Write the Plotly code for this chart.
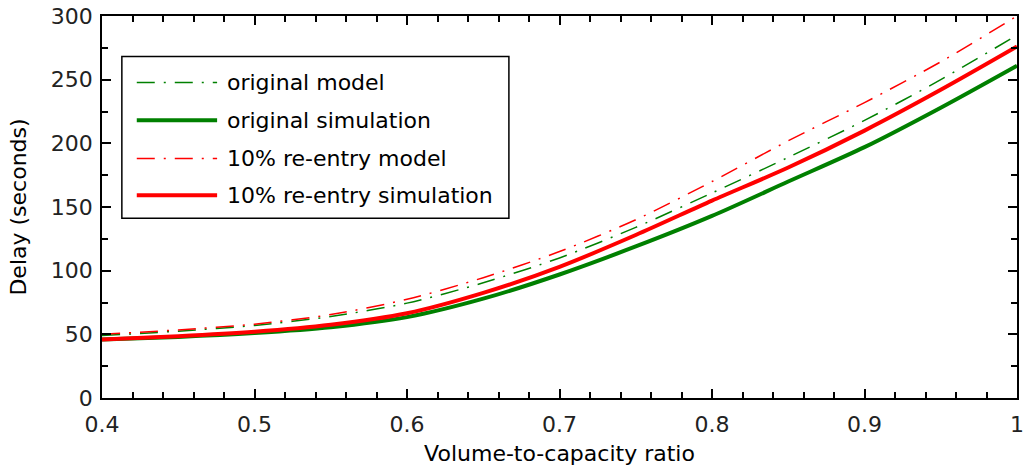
import plotly.graph_objects as go

# ---- data ----
vc_ratio = [0.40, 0.45, 0.50, 0.55, 0.60, 0.65, 0.70, 0.75, 0.80, 0.85, 0.90, 0.95, 1.00]
original_model = [49, 52.5, 57, 64, 74.5, 90.5, 110, 134, 161, 189, 218, 250, 285]
original_simulation = [46, 48, 51, 55.5, 63.5, 78, 97, 119, 143, 170, 197, 228, 261]
reentry_model = [50, 53.5, 58, 65.5, 77.5, 94.5, 115, 140, 170, 202, 232, 264, 300]
reentry_simulation = [46, 48.5, 52, 57.5, 66.5, 82.5, 103, 128, 155, 181, 210, 242, 276]

series_names = ["original model", "original simulation",
                "10% re-entry model", "10% re-entry simulation"]

GREEN = "#008000"
RED = "#FF0000"
DASHDOT = "18px,9px,2px,9px"
FONT = "DejaVu Sans"

styles = [
    (original_model, GREEN, 1.5, DASHDOT),
    (original_simulation, GREEN, 4, "solid"),
    (reentry_model, RED, 1.5, DASHDOT),
    (reentry_simulation, RED, 4, "solid"),
]

fig = go.Figure()
for name, (ys, color, width, dash) in zip(series_names, styles):
    fig.add_trace(go.Scatter(
        x=vc_ratio, y=ys, mode="lines", name=name,
        line=dict(color=color, width=width, dash=dash, shape="spline", smoothing=0.8),
        showlegend=False,
    ))

# manual legend box (MATLAB-like)
shapes = [dict(type="rect", xref="paper", yref="paper",
               x0=0.0217, x1=0.4447, y0=0.4706, y1=0.894,
               line=dict(color="black", width=1.5), fillcolor="white", layer="below")]
annotations = []
row_y = [0.826, 0.727, 0.627, 0.531]
for name, (ys, color, width, dash), yy in zip(series_names, styles, row_y):
    shapes.append(dict(type="line", xref="paper", yref="paper",
                       x0=0.038, x1=0.1258, y0=yy, y1=yy,
                       line=dict(color=color, width=width, dash=dash)))
    annotations.append(dict(xref="paper", yref="paper", x=0.1345, y=yy,
                            xanchor="left", yanchor="middle", showarrow=False,
                            text=name, font=dict(family=FONT, size=22, color="black")))

axis_common = dict(
    showline=True, linecolor="black", linewidth=1.5, mirror="ticks",
    ticks="inside", ticklen=9, tickwidth=1.5, tickcolor="black",
    showgrid=False, zeroline=False, ticklabeloverflow="allow",
    tickfont=dict(family=FONT, size=22, color="#222"),
    title_font=dict(family=FONT, size=22, color="black"),
)

fig.update_layout(
    width=1027, height=470,
    margin=dict(l=102, r=3, t=16, b=72),
    plot_bgcolor="white", paper_bgcolor="white",
    shapes=shapes, annotations=annotations,
    xaxis=dict(range=[0.4, 1.0], tick0=0.4, dtick=0.1, ticklabelstandoff=6,
               title=dict(text="Volume-to-capacity ratio", standoff=9),
               minor=dict(tick0=0.4, dtick=0.02, ticks="inside", ticklen=6,
                          tickwidth=1.5, tickcolor="black", showgrid=False),
               **axis_common),
    yaxis=dict(range=[0, 300], tick0=0, dtick=50, ticklabelstandoff=3,
               title=dict(text="Delay (seconds)", standoff=18),
               minor=dict(tick0=0, dtick=25, ticks="inside", ticklen=6,
                          tickwidth=1.5, tickcolor="black", showgrid=False),
               **axis_common),
)

fig.write_html("out.html")
